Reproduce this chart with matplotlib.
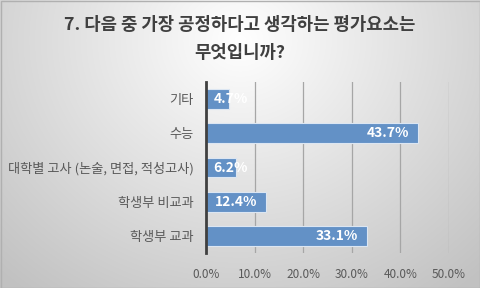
import matplotlib
matplotlib.use("Agg")
import matplotlib.pyplot as plt
import numpy as np
from matplotlib.patches import Rectangle

plt.rcParams["font.family"] = ["Noto Sans CJK KR", "DejaVu Sans"]

# data (bottom to top)
categories = ["학생부 교과", "학생부 비교과", "대학별 고사 (논술, 면접, 적성고사)", "수능", "기타"]
values = [33.1, 12.4, 6.2, 43.7, 4.7]
x_ticks = [0, 10, 20, 30, 40, 50]
title_lines = ["7. 다음 중 가장 공정하다고 생각하는 평가요소는", "무엇입니까?"]

W, H = 480, 288
fig = plt.figure(figsize=(W / 100, H / 100), dpi=100)

# radial background gradient, light at top centre, grey at the edges
bg = fig.add_axes([0, 0, 1, 1], zorder=-10)
yy, xx = np.mgrid[0:H, 0:W]
r = np.sqrt(((xx - 240) / 320.0) ** 2 + ((yy - 40) / 290.0) ** 2)
shade = np.clip(1.0 - 0.22 * r, 0.76, 1.0)
bg.imshow(np.dstack([shade] * 3), extent=[0, W, H, 0], aspect="auto")
bg.add_patch(Rectangle((0.5, 0.5), W - 1, H - 1, fill=False, ec="#b0b0b0", lw=1))
bg.set_xlim(0, W)
bg.set_ylim(H, 0)
bg.axis("off")

left, right = 206 / W, 449 / W
top, bottom = 1 - 82 / H, 1 - 253 / H
ax = fig.add_axes([left, bottom, right - left, top - bottom])
ax.patch.set_alpha(0)

y = np.arange(len(categories))
ax.barh(y, values, height=0.58, color="#6391c6", edgecolor="#dce6f2", lw=0.8, zorder=3)

ax.set_xlim(0, 50)
ax.set_ylim(-0.5, len(categories) - 0.5)
ax.set_xticks(x_ticks)
ax.set_xticklabels([f"{v:.1f}%" for v in x_ticks], color="#595959", fontsize=8.5)
ax.set_yticks(y)
ax.set_yticklabels(categories, color="#595959", fontsize=9.5)
ax.tick_params(axis="x", length=0, pad=11)
ax.tick_params(axis="y", length=0, pad=9)
ax.grid(axis="x", color="#a6a6a6", lw=0.9, zorder=0)

for s in ["top", "right", "bottom"]:
    ax.spines[s].set_visible(False)
ax.spines["left"].set_color("#404040")
ax.spines["left"].set_linewidth(2)
ax.spines["left"].set_zorder(5)

for yi, v in zip(y, values):
    lbl = f"{v:.1f}%"
    if v < 10:
        ax.annotate(lbl, (0, yi), xytext=(5.5, 0), textcoords="offset points",
                    ha="left", va="center", color="white", fontsize=10,
                    fontweight="bold", zorder=6)
    else:
        ax.annotate(lbl, (v, yi), xytext=(-6.5, 0), textcoords="offset points",
                    ha="right", va="center", color="white", fontsize=10,
                    fontweight="bold", zorder=6)

for i, line in enumerate(title_lines):
    fig.text(0.5, 1 - (25 + 28 * i) / H, line, ha="center", va="center",
             fontsize=12.8, fontweight="bold", color="#404040")

fig.savefig("out.png", dpi=100)
